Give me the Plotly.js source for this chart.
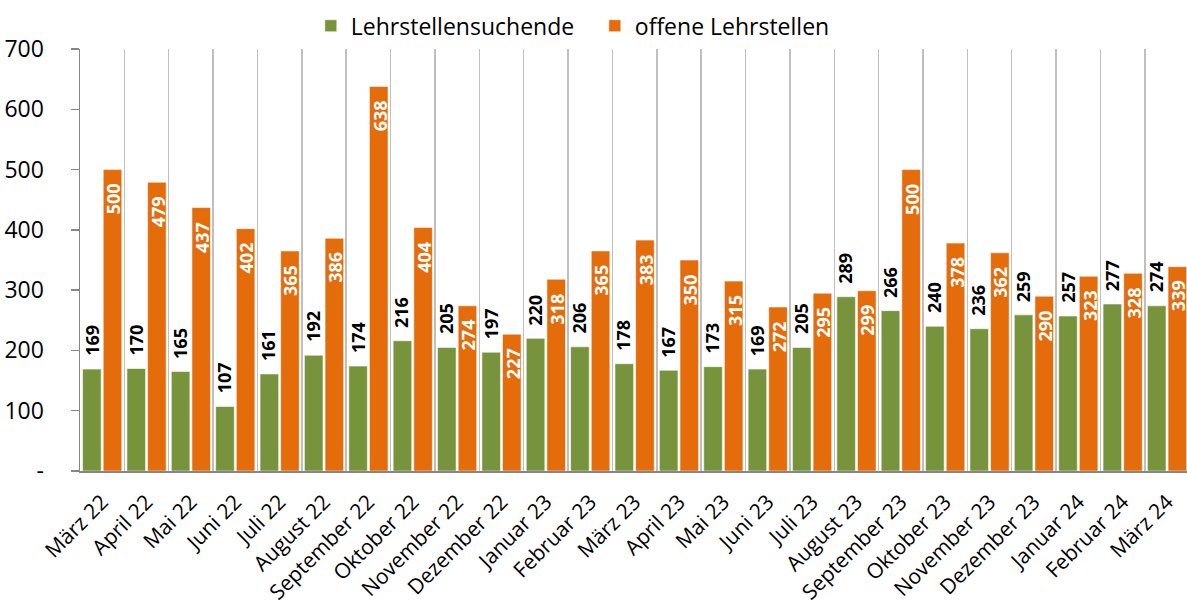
<!DOCTYPE html>
<html><head><meta charset="utf-8">
<script src="https://cdn.plot.ly/plotly-3.0.1.min.js"></script>
<style>html,body{margin:0;padding:0;background:#fff}#chart{width:1187px;height:600px}</style>
</head><body><div id="chart"></div>
<script>
const categories = ['März 22','April 22','Mai 22','Juni 22','Juli 22','August 22','September 22','Oktober 22','November 22','Dezember 22','Januar 23','Februar 23','März 23','April 23','Mai 23','Juni 23','Juli 23','August 23','September 23','Oktober 23','November 23','Dezember 23','Januar 24','Februar 24','März 24'];
const seekers = [169,170,165,107,161,192,174,216,205,197,220,206,178,167,173,169,205,289,266,240,236,259,257,277,274];
const openPositions = [500,479,437,402,365,386,638,404,274,227,318,365,383,350,315,272,295,299,500,378,362,290,323,328,339];
const seriesNames = ['Lehrstellensuchende','offene Lehrstellen'];
const yTickValues = [0,100,200,300,400,500,600,700];
const yTickLabels = ['-','100','200','300','400','500','600','700'];

const FONT = '"Open Sans", "Noto Sans", sans-serif';
const GREEN = '#77933C', ORANGE = '#E46C0A';
const xRange = [-0.5, 24.45];
const boundaryTicks = categories.map((_, i) => i - 0.5).filter((_, i) => i % 2 === 0);

const traces = [
  {type:'bar', name:seriesNames[0], x:categories, y:seekers,
   marker:{color:GREEN, line:{color:'rgba(255,255,255,0.55)', width:1}},
   hoverinfo:'skip'},
  {type:'bar', name:seriesNames[1], x:categories, y:openPositions,
   marker:{color:ORANGE, line:{color:'rgba(255,255,255,0.55)', width:1}},
   hoverinfo:'skip'}
];

const labelFont = {family:FONT, size:18, weight:'bold'};
const seekerLabels = categories.map((c, i) => ({
  x:c, y:seekers[i], xref:'x', yref:'y', text:String(seekers[i]), textangle:-90,
  xanchor:'center', yanchor:'bottom', yshift:11, xshift:-11, showarrow:false,
  font:Object.assign({color:'#000000'}, labelFont)
}));
const openLabels = categories.map((c, i) => ({
  x:c, y:openPositions[i], xref:'x', yref:'y', text:String(openPositions[i]), textangle:-90,
  xanchor:'center', yanchor:'top', yshift:-12, xshift:11, showarrow:false,
  font:Object.assign({color:'#ffffff'}, labelFont)
}));

const layout = {
  width:1187, height:600,
  margin:{l:80, r:0, t:49, b:129},
  paper_bgcolor:'#ffffff', plot_bgcolor:'#ffffff',
  font:{family:FONT, color:'#000000'},
  barmode:'group', bargap:0.07, bargroupgap:0.1,
  showlegend:true,
  legend:{orientation:'h', x:0.2085, xanchor:'left', y:0.957, yref:'container', yanchor:'middle',
          font:{family:FONT, size:23, color:'#000000'}, entrywidth:239, traceorder:'normal'},
  xaxis:{type:'category', range:xRange, tickson:'boundaries', ticks:'', ticklabelstandoff:9,
         showgrid:true, gridcolor:'#BFBFBF', gridwidth:1.5,
         showline:true, linecolor:'#868686', linewidth:1.5, tickangle:-45,
         tickfont:{family:FONT, size:21, color:'#000000'}, fixedrange:true},
  xaxis2:{overlaying:'x', anchor:'y', side:'bottom', range:xRange, tickmode:'array',
          tickvals:boundaryTicks, ticks:'outside', ticklen:7, tickwidth:1.5, tickcolor:'#868686',
          showticklabels:false, showgrid:false, zeroline:false, showline:false},
  yaxis:{range:[0,700], tickmode:'array', tickvals:yTickValues, ticktext:yTickLabels,
         ticks:'outside', ticklen:8, tickwidth:1.5, tickcolor:'#868686', ticklabelstandoff:22,
         showline:true, linecolor:'#868686', linewidth:1.5, showgrid:false, zeroline:false,
         tickfont:{family:FONT, size:23, color:'#000000'}, fixedrange:true},
  annotations:seekerLabels.concat(openLabels)
};

Plotly.newPlot('chart', traces, layout, {displayModeBar:false, staticPlot:true});
</script>
</body></html>
